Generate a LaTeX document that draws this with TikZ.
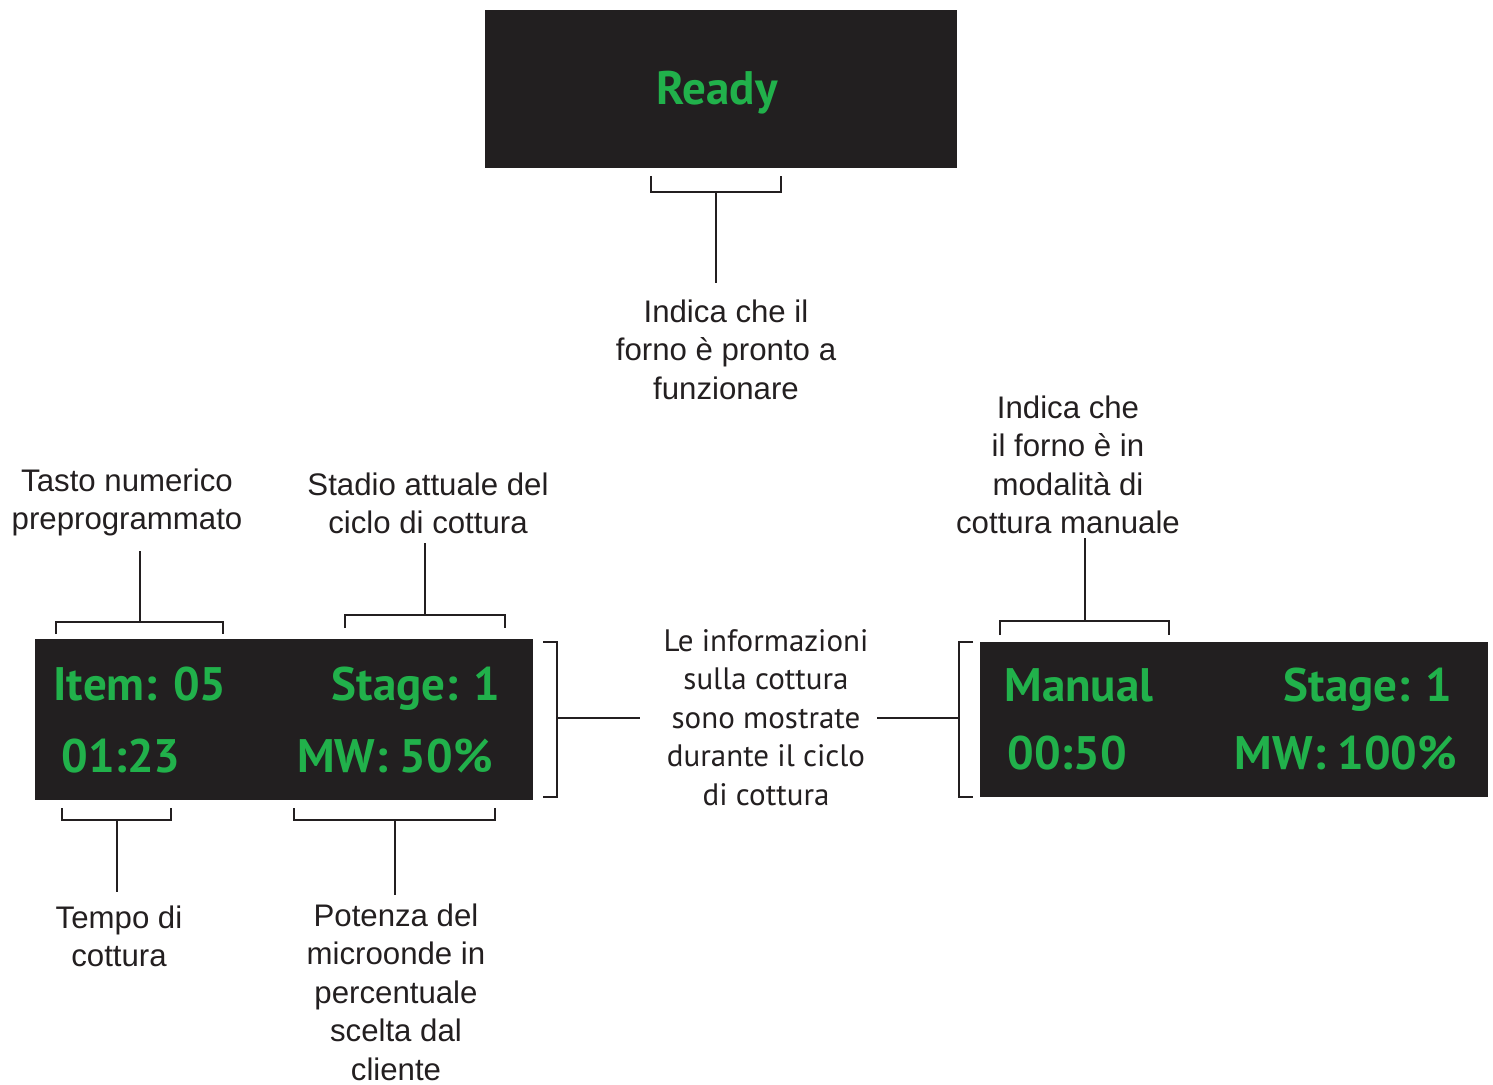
\documentclass[tikz,border=0pt]{standalone}
\usepackage{fontspec}
\setmainfont{Liberation Sans}
\newfontfamily\dispfont{PT Sans}
\definecolor{panelc}{HTML}{221F20}
\definecolor{lcdc}{HTML}{21B14B}
\definecolor{inkc}{HTML}{231F20}
\tikzset{
  panel/.style={fill=panelc, draw=none, inner sep=0pt},
  lcd/.style={text=lcdc, font=\dispfont\bfseries\fontsize{23.5}{28}\selectfont, inner sep=0pt},
  lbl/.style={text=inkc, align=center, anchor=north, font=\fontsize{15.6}{19.25}\selectfont, inner sep=0pt},
  midlbl/.style={text=inkc, align=center, anchor=north, font=\dispfont\fontsize{15.5}{19.25}\selectfont, inner sep=0pt},
  brk/.style={draw=inkc, line width=1.15pt},
}
\begin{document}
\begin{tikzpicture}[x=0.5pt,y=-0.5pt]
\useasboundingbox (0,0) rectangle (1493,1085);

% panels
\node[panel, minimum width=236pt, minimum height=79pt] (ready) at (721,89) {};
\node[panel, minimum width=249pt, minimum height=80.5pt] (leftp) at (284,719.5) {};
\node[panel, minimum width=254pt, minimum height=77.5pt] (rightp) at (1234,719.5) {};

% display texts
\node[lcd, anchor=base] (readyt) at (717,105) {Ready};
\node[lcd, anchor=base west] (item) at (53,700) {Item: 05};
\node[lcd, anchor=base east] (stage1) at (501,700) {Stage: 1};
\node[lcd, anchor=base west] (time1) at (61,772) {01:23};
\node[lcd, anchor=base] (mw1) at (395,772) {MW: 50\%};
\node[lcd, anchor=base west] (manual) at (1004,701) {Manual};
\node[lcd, anchor=base east] (stage2) at (1453,701) {Stage: 1};
\node[lcd, anchor=base west] (time2) at (1007,769) {00:50};
\node[lcd, anchor=base] (mw2) at (1346,769) {MW: 100\%};

% labels
\node[lbl] (lready) at (726,299) {Indica che il\\forno è pronto a\\funzionare};
\node[lbl] (ltasto) at (127,468) {Tasto numerico\\preprogrammato};
\node[lbl] (lstadio) at (428,472) {Stadio attuale del\\ciclo di cottura};
\node[lbl] (lmanual) at (1068,395) {Indica che\\il forno è in\\modalità di\\cottura manuale};
\node[lbl] (ltempo) at (119,905) {Tempo di\\cottura};
\node[lbl] (lpot) at (396,903) {Potenza del\\microonde in\\percentuale\\scelta dal\\cliente};
\node[midlbl] (lmid) at (766,629) {Le informazioni\\sulla cottura\\sono mostrate\\durante il ciclo\\di cottura};

% stem end coordinates
\coordinate (eready) at (716,283);
\coordinate (etasto) at (140,551);
\coordinate (estadio) at (425,543);
\coordinate (emanual) at (1085,538);
\coordinate (etempo) at (117,892);
\coordinate (epot) at (395,895);
\coordinate (emidl) at (640,718);
\coordinate (emidr) at (877,718);

% brackets
\draw[brk] (651,176) -- (651,192) -- (781,192) -- (781,176);
\coordinate (bready) at (716,192);
\draw[brk] (bready) -- (eready);

\draw[brk] (56,634) -- (56,622) -- (223,622) -- (223,634);
\coordinate (btasto) at (140,622);
\draw[brk] (btasto) -- (etasto);

\draw[brk] (345,628) -- (345,615) -- (505,615) -- (505,628);
\coordinate (bstadio) at (425,615);
\draw[brk] (bstadio) -- (estadio);

\draw[brk] (1000,635) -- (1000,621) -- (1169,621) -- (1169,635);
\coordinate (bmanual) at (1085,621);
\draw[brk] (bmanual) -- (emanual);

\draw[brk] (62,808) -- (62,820) -- (171,820) -- (171,808);
\coordinate (btempo) at (117,820);
\draw[brk] (btempo) -- (etempo);

\draw[brk] (294,808) -- (294,820) -- (495,820) -- (495,808);
\coordinate (bpot) at (395,820);
\draw[brk] (bpot) -- (epot);

\draw[brk] (543,642) -- (557,642) -- (557,797) -- (543,797);
\coordinate (bleft) at (557,718);
\draw[brk] (bleft) -- (emidl);

\draw[brk] (973,642) -- (959,642) -- (959,797) -- (973,797);
\coordinate (bright) at (959,718);
\draw[brk] (bright) -- (emidr);
\end{tikzpicture}
\end{document}
